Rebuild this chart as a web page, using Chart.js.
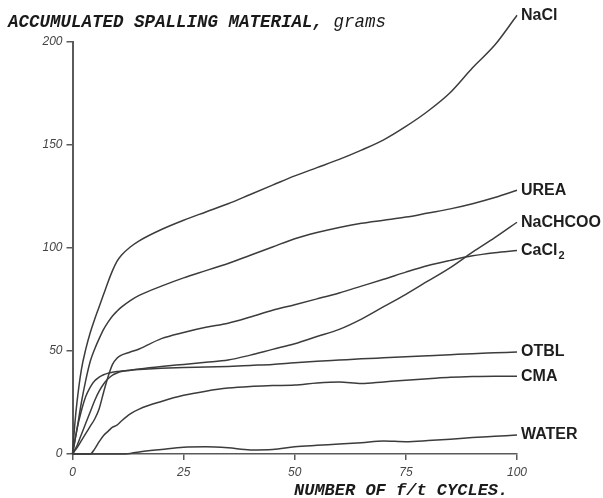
<!DOCTYPE html>
<html>
<head>
<meta charset="utf-8">
<script src="https://cdn.jsdelivr.net/npm/chart.js@4.4.0/dist/chart.umd.min.js"></script>
<style>
  html, body { margin: 0; padding: 0; background: #fff; }
  #wrap { width: 603px; height: 498px; position: relative; }
</style>
</head>
<body>
<div id="wrap"><canvas id="spallingChart" width="603" height="498"></canvas></div>
<script>
// number of freeze/thaw cycles (x) shared by all curves
const cycles = [0, 0.5, 1, 2, 3, 4, 5, 6, 7, 8, 9, 10, 11, 13, 15, 20, 25, 30, 35, 40, 45, 50, 55, 60, 65, 70, 75, 80, 85, 90, 95, 100];

// accumulated spalling material, grams
const nacl     = [0, 14, 25, 41, 51, 59, 65.5, 71.5, 77.5, 83.5, 89, 93.5, 96.5, 100.5, 103.5, 109, 113.5, 117.5, 121.5, 126, 130.5, 135, 139, 143, 147.5, 152.5, 159, 166.5, 175.5, 187.5, 198.5, 213];
const urea     = [0, 6, 12, 25, 36, 45, 51, 56, 60.5, 64, 67, 69.3, 71.3, 74.5, 77, 81.5, 85.5, 89, 92.5, 96.5, 100.5, 104.5, 107.5, 110, 112, 113.5, 115, 117, 119, 121.5, 124.5, 128];
const nachcoo  = [0, 2, 4, 9.5, 15, 20.5, 26, 30.5, 34, 36.5, 38.3, 39.3, 40, 40.7, 41.3, 42.5, 43.5, 44.5, 45.6, 48, 50.8, 53.5, 57, 60.5, 65.5, 71.5, 77.5, 84, 90.5, 98, 105, 112.5];
const cacl2    = [0, 1.5, 3, 6.5, 10, 13.5, 17, 22, 30, 37.5, 43.5, 46.5, 48, 49.5, 51, 56, 59, 61.5, 63.5, 66.5, 69.8, 72.5, 75.3, 78.2, 81.5, 84.8, 88.3, 91.5, 94, 96.2, 97.7, 98.8];
const otbl     = [0, 6, 12, 21, 28, 32.5, 35.5, 37.3, 38.5, 39.2, 39.7, 40, 40.3, 40.7, 41, 41.6, 42, 42.2, 42.5, 43, 43.5, 44.3, 45, 45.6, 46.2, 46.7, 47.2, 47.7, 48.2, 48.7, 49.1, 49.5];
const cma      = [0, 0, 0, 0, 0, 0, 2.5, 6, 9, 11, 13, 14, 16, 19.5, 21.8, 25.5, 28.5, 30.5, 32, 32.8, 33.2, 33.5, 34.5, 35, 34.2, 35, 35.8, 36.5, 37.2, 37.6, 37.8, 37.8];
const water    = [0, 0, 0, 0, 0, 0, 0, 0, 0, 0, 0, 0, 0, 0.3, 1, 2.2, 3.3, 3.5, 3, 2, 2.2, 3.5, 4.2, 4.8, 5.5, 6.3, 6, 6.5, 7.2, 8, 8.6, 9.2];

const seriesNames = ['NaCl', 'UREA', 'NaCHCOO', 'CaCl₂', 'OTBL', 'CMA', 'WATER'];
const seriesValues = [nacl, urea, nachcoo, cacl2, otbl, cma, water];

const yTicks = [0, 50, 100, 150, 200];
const xTicks = [0, 25, 50, 75, 100];

const LINE = '#3c3c3c';
const AXIS = '#5a5a5a';

// names written at the right-hand end of every curve, plus the two axis captions
const curveLabels = {
    id: 'curveLabels',
    afterDraw(chart) {
        const { ctx, scales: { x, y } } = chart;
        ctx.save();
        ctx.fillStyle = '#1e1e1e';
        ctx.textBaseline = 'middle';
        chart.data.datasets.forEach(ds => {
            const last = ds.data[ds.data.length - 1];
            const px = x.getPixelForValue(last.x) + 4;
            const py = y.getPixelForValue(last.y);
            ctx.font = 'bold 16px "Liberation Sans"';
            if (ds.label.endsWith('₂')) {
                const base = ds.label.slice(0, -1);
                ctx.fillText(base, px, py);
                const w = ctx.measureText(base).width;
                ctx.font = 'bold 11px "Liberation Sans"';
                ctx.fillText('2', px + w + 1, py + 5);
            } else {
                ctx.fillText(ds.label, px, py);
            }
        });

        // y caption, top left
        ctx.textBaseline = 'alphabetic';
        ctx.fillStyle = '#1a1a1a';
        ctx.font = 'bold italic 17.5px "Liberation Mono"';
        const head = 'ACCUMULATED SPALLING MATERIAL,';
        ctx.fillText(head, 8, 27);
        const hw = ctx.measureText(head + ' ').width;
        ctx.font = 'italic 17.5px "Liberation Mono"';
        ctx.fillText('grams', 8 + hw, 27);

        // x caption, under the axis
        ctx.font = 'bold italic 17px "Liberation Mono"';
        ctx.fillText('NUMBER OF f/t CYCLES.', 294, 495);
        ctx.restore();
    }
};

const ctx = document.getElementById('spallingChart').getContext('2d');

new Chart(ctx, {
    type: 'line',
    data: {
        datasets: seriesNames.map((name, i) => ({
            label: name,
            data: cycles.map((c, j) => ({ x: c, y: seriesValues[i][j] })),
            borderColor: LINE,
            borderWidth: 1.5,
            pointRadius: 0,
            fill: false,
            cubicInterpolationMode: 'monotone',
            clip: false
        }))
    },
    options: {
        responsive: false,
        animation: false,
        layout: { padding: { top: 42, right: 86, left: 0, bottom: 0 } },
        plugins: {
            legend: { display: false },
            tooltip: { enabled: false },
            title: { display: false }
        },
        scales: {
            x: {
                type: 'linear',
                min: 0,
                max: 100,
                afterFit: s => { s.height = 44; },
                afterBuildTicks: s => { s.ticks = xTicks.map(v => ({ value: v })); },
                border: { display: true, color: AXIS, width: 1.5 },
                grid: { drawOnChartArea: false, drawTicks: true, tickLength: 6, color: AXIS, lineWidth: 1.5 },
                ticks: {
                    padding: 5,
                    color: '#444',
                    font: { family: 'Liberation Sans', size: 12, style: 'italic' }
                }
            },
            y: {
                min: 0,
                max: 200,
                afterFit: s => { s.width = 72.5; },
                afterBuildTicks: s => { s.ticks = yTicks.map(v => ({ value: v })); },
                border: { display: true, color: AXIS, width: 2 },
                grid: { drawOnChartArea: false, drawTicks: true, tickLength: 6, color: AXIS, lineWidth: 1.5 },
                ticks: {
                    padding: 4,
                    color: '#444',
                    font: { family: 'Liberation Sans', size: 12, style: 'italic' }
                }
            }
        }
    },
    plugins: [curveLabels]
});
</script>
</body>
</html>
